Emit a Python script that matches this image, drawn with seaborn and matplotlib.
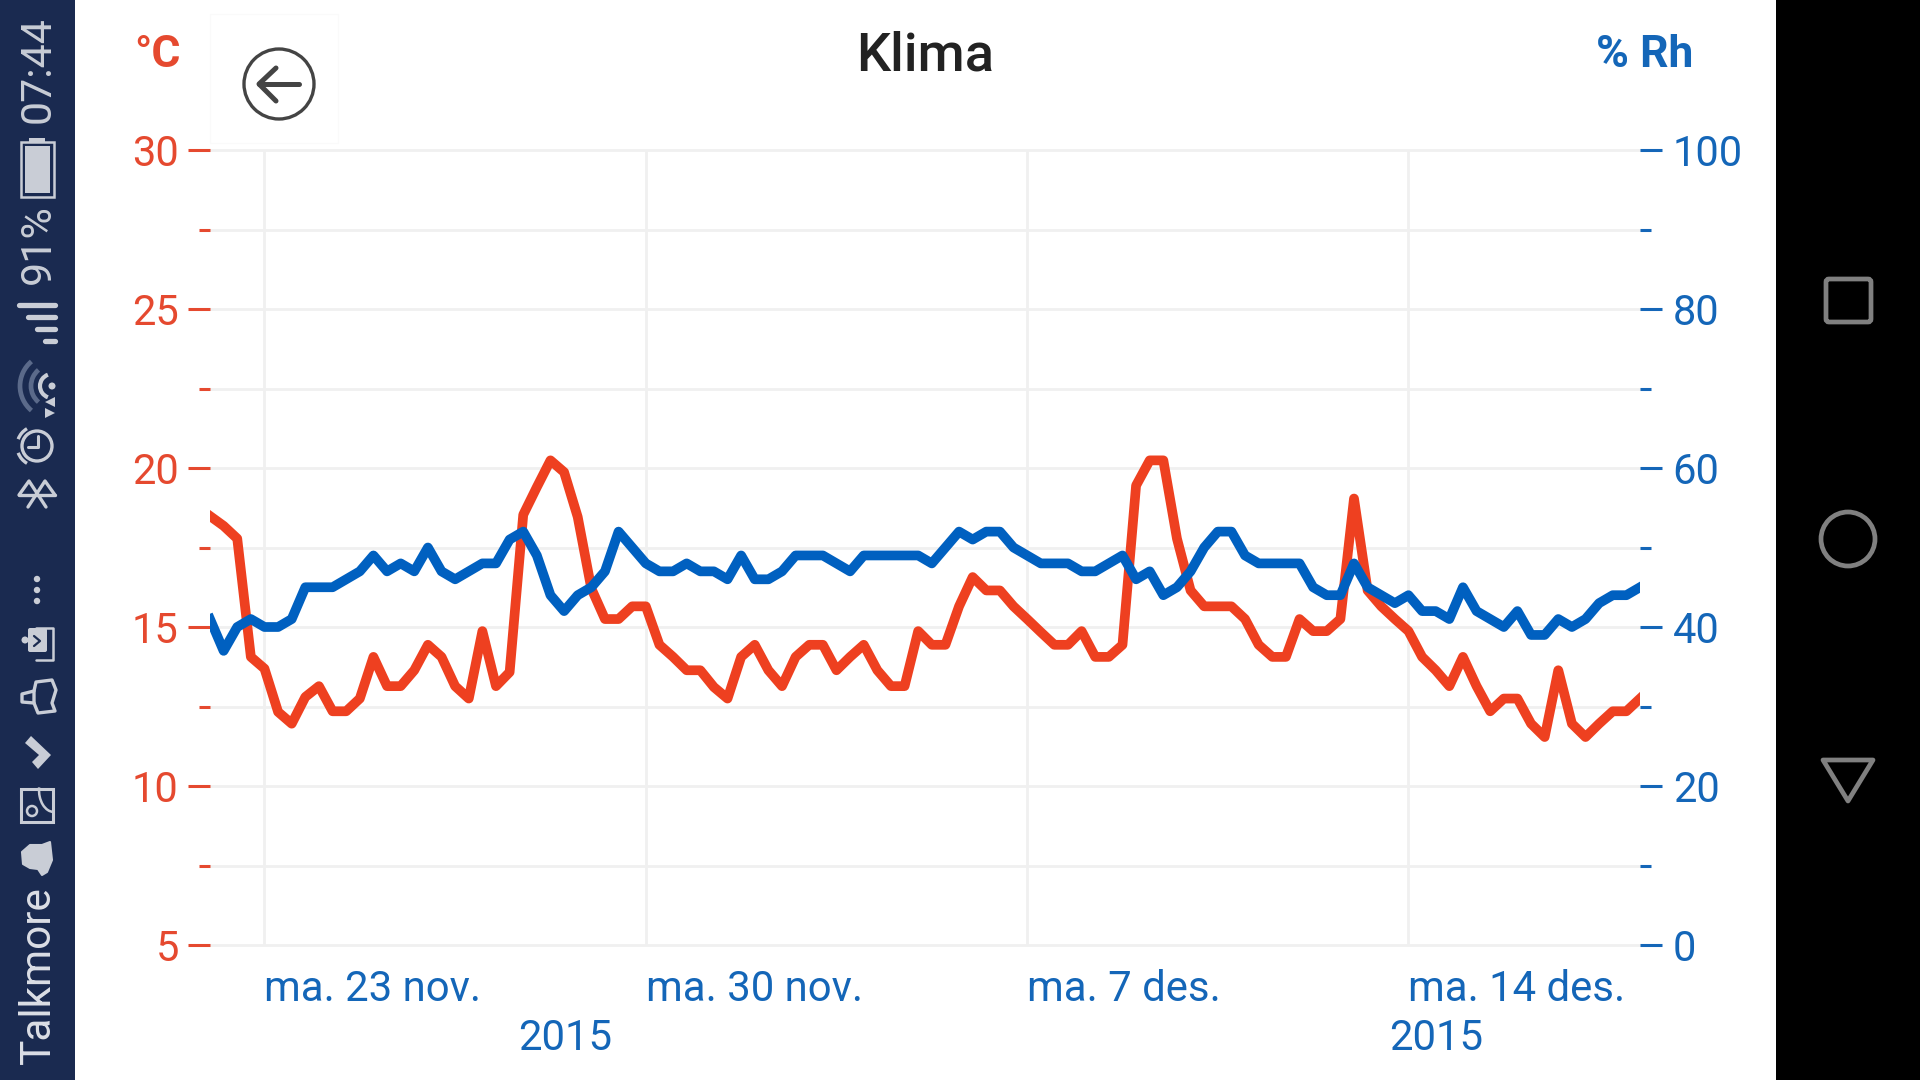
import pandas as pd
import seaborn as sns
import matplotlib.pyplot as plt
from matplotlib.patches import Rectangle, Circle, Polygon, Arc, FancyBboxPatch

temp = [18.49, 18.18, 17.78, 14.06, 13.69, 12.33, 11.96, 12.80, 13.14, 12.35,
        12.35, 12.75, 14.06, 13.14, 13.14, 13.64, 14.44, 14.06, 13.14, 12.75,
        14.87, 13.14, 13.58, 18.53, 19.40, 20.24, 19.87, 18.46, 16.21, 15.25,
        15.25, 15.65, 15.65, 14.44, 14.06, 13.64, 13.64, 13.11, 12.75, 14.06,
        14.44, 13.64, 13.14, 14.06, 14.44, 14.44, 13.64, 14.06, 14.44, 13.64,
        13.14, 13.14, 14.87, 14.44, 14.44, 15.65, 16.57, 16.15, 16.15, 15.65,
        15.25, 14.84, 14.44, 14.44, 14.87, 14.06, 14.06, 14.44, 19.45, 20.24,
        20.24, 17.78, 16.15, 15.65, 15.65, 15.65, 15.25, 14.44, 14.06, 14.06,
        15.25, 14.87, 14.87, 15.25, 19.04, 16.15, 15.65, 15.25, 14.87, 14.06,
        13.64, 13.14, 14.06, 13.14, 12.35, 12.75, 12.75, 11.96, 11.54, 13.64,
        11.96, 11.54, 11.96, 12.35, 12.35, 12.75]
rh = [41, 37, 40, 41, 40, 40, 41, 45, 45, 45,
      46, 47, 49, 47, 48, 47, 50, 47, 46, 47,
      48, 48, 51, 52, 49, 44, 42, 44, 45, 47,
      52, 50, 48, 47, 47, 48, 47, 47, 46, 49,
      46, 46, 47, 49, 49, 49, 48, 47, 49, 49,
      49, 49, 49, 48, 50, 52, 51, 52, 52, 50,
      49, 48, 48, 48, 47, 47, 48, 49, 46, 47,
      44, 45, 47, 50, 52, 52, 49, 48, 48, 48,
      48, 45, 44, 44, 48, 45, 44, 43, 44, 42,
      42, 41, 45, 42, 41, 40, 42, 39, 39, 41,
      40, 41, 43, 44, 44, 45]
tick_dates = ['2015-11-23', '2015-11-30', '2015-12-07', '2015-12-14']
tick_labels = ['ma. 23 nov.', 'ma. 30 nov.', 'ma. 7 des.', 'ma. 14 des.']
temp_ticks = [5, 10, 15, 20, 25, 30]
temp_minor = [7.5, 12.5, 17.5, 22.5, 27.5]
rh_ticks = [0, 20, 40, 60, 80, 100]
rh_minor = [10, 30, 50, 70, 90]

RED = '#ee4020'
RED_TXT = '#e5492f'
BLUE = '#0060c0'
BLUE_TXT = '#1466b8'
GRID = '#f0f0f0'
ICON = '#c9cdd6'

sns.set_theme(style='white')
plt.rcParams['font.family'] = ['Roboto', 'DejaVu Sans']

dates = pd.date_range('2015-11-22', periods=len(temp), freq='6h')
df = pd.DataFrame({'date': dates, 'temp': temp, 'rh': rh})

fig = plt.figure(figsize=(19.2, 10.8), dpi=100, facecolor='white')
W, H = 1920, 1080


def px_axes(left, top, right, bottom):
    return fig.add_axes([left / W, 1 - bottom / H, (right - left) / W, (bottom - top) / H])


ax = px_axes(210, 150, 1640, 945)
ax.patch.set_alpha(0)
sns.lineplot(data=df, x='date', y='temp', ax=ax, color=RED, linewidth=7,
             solid_joinstyle='round', solid_capstyle='projecting')
ax.set_xlim(dates[0], dates[-1])
ax.set_ylim(5, 30)
ax.set_xlabel('')
ax.set_ylabel('')
ax.set_yticks(temp_ticks)
ax.set_yticks(temp_minor, minor=True)
ax.set_xticks(pd.to_datetime(tick_dates))
ax.set_xticklabels(tick_labels, ha='left')
ax.tick_params(axis='y', which='major', left=True, length=16, width=2.2, color=RED_TXT,
               labelcolor=RED_TXT, labelsize=30, pad=6.5)
ax.tick_params(axis='y', which='minor', left=True, length=8, width=2.2, color=RED_TXT)
ax.tick_params(axis='x', bottom=False, labelcolor=BLUE_TXT, labelsize=30.2, pad=11)
ax.grid(True, axis='y', which='both', color=GRID, linewidth=2, clip_on=False)
ax.grid(True, axis='x', which='major', color=GRID, linewidth=2)
ax.set_axisbelow(True)
sns.despine(ax=ax, left=True, bottom=True, right=True, top=True)

ax2 = ax.twinx()
ax2.patch.set_alpha(0)
sns.lineplot(data=df, x='date', y='rh', ax=ax2, color=BLUE, linewidth=7,
             solid_joinstyle='round', solid_capstyle='projecting')
ax2.set_ylim(0, 100)
ax2.set_xlabel('')
ax2.set_ylabel('')
ax2.set_yticks(rh_ticks)
ax2.set_yticks(rh_minor, minor=True)
ax2.tick_params(axis='y', which='major', right=True, length=16, width=2.2, color=BLUE_TXT,
                labelcolor=BLUE_TXT, labelsize=30, pad=7.5)
ax2.tick_params(axis='y', which='minor', right=True, length=8, width=2.2, color=BLUE_TXT)
ax2.grid(False)
sns.despine(ax=ax2, left=True, bottom=True, right=True, top=True)

# everything outside the plot, in pixel coordinates of the screenshot
ui = fig.add_axes([0, 0, 1, 1], zorder=-1)
ui.set_xlim(0, W)
ui.set_ylim(H, 0)
ui.axis('off')
top = fig.add_axes([0, 0, 1, 1], zorder=5)
top.set_xlim(0, W)
top.set_ylim(H, 0)
top.axis('off')
top.patch.set_alpha(0)

ui.add_patch(Rectangle((0, 0), 75, H, color='#1a2a50', lw=0))
ui.add_patch(Rectangle((1776, 0), 144, H, color='black', lw=0))
ui.add_patch(Rectangle((210, 14), 128, 129, fc='white', ec='#fafafa', lw=1))

top.text(925, 56, 'Klima', fontsize=39, fontweight='medium', color='#222222', ha='center', va='center')
top.text(134, 55, '°C', fontsize=32, fontweight='bold', color=RED_TXT, ha='left', va='center')
top.text(1693, 55, '% Rh', fontsize=32, fontweight='bold', color=BLUE_TXT, ha='right', va='center')
top.text(565, 1038, '2015', fontsize=30.2, color=BLUE_TXT, ha='center', va='center')
top.text(1436, 1038, '2015', fontsize=30.2, color=BLUE_TXT, ha='center', va='center')

# back button
top.add_patch(Circle((279, 84), 35, fc='none', ec='#444444', lw=2.4))
top.plot([259, 299], [84, 84], color='#444444', lw=3.6, solid_capstyle='round')
top.plot([276, 259, 276], [68, 84, 101], color='#444444', lw=3.6, solid_capstyle='round')

# android nav buttons
top.add_patch(FancyBboxPatch((1826, 279), 45, 43, boxstyle='round,pad=0,rounding_size=3',
                             fc='none', ec='#808080', lw=3.4))
top.add_patch(Circle((1848, 539), 27, fc='none', ec='#808080', lw=3.4))
top.add_patch(Polygon([(1823, 760), (1873, 760), (1848, 801)], closed=True, fc='none',
                      ec='#808080', lw=3.4, joinstyle='round'))

# status bar
top.text(38, 70, '07:44', fontsize=31, color=ICON, rotation=90, ha='center', va='center')
top.text(38, 244, '91%', fontsize=31, color=ICON, rotation=90, ha='center', va='center')
top.text(38, 975, 'Talkmore', fontsize=30.5, color='#dcdfe6', rotation=90, ha='center', va='center')

top.add_patch(Rectangle((21, 142), 33, 55, fc='none', ec=ICON, lw=1.8))
top.add_patch(Rectangle((25, 146), 25, 47, fc=ICON, lw=0))
top.add_patch(Rectangle((29, 138), 16, 4, fc=ICON, lw=0))

for y, x0 in zip([305, 317, 329, 341], [19, 28, 37, 45]):
    top.plot([x0, 55], [y, y], color=ICON, lw=3.8, solid_capstyle='round')

top.add_patch(Arc((52, 386), 64, 64, theta1=130, theta2=230, color='#5b6a8a', lw=3.4))
top.add_patch(Arc((52, 386), 42, 42, theta1=130, theta2=230, color='#5b6a8a', lw=3.4))
top.add_patch(Arc((52, 386), 24, 24, theta1=110, theta2=250, color=ICON, lw=3))
top.add_patch(Circle((52, 386), 3.5, fc=ICON, lw=0))
top.add_patch(Polygon([(45, 402), (55, 397), (55, 407)], closed=True, fc=ICON, lw=0))
top.add_patch(Polygon([(55, 413), (45, 408), (45, 418)], closed=True, fc=ICON, lw=0))

top.add_patch(Circle((37, 446), 15, fc='none', ec=ICON, lw=2.4))
top.plot([38, 38, 28], [436, 447, 447], color=ICON, lw=2.2)
top.add_patch(Arc((37, 446), 40, 40, theta1=120, theta2=160, color=ICON, lw=2.4))
top.add_patch(Arc((37, 446), 40, 40, theta1=200, theta2=240, color=ICON, lw=2.4))

# sideways bluetooth mark
top.plot([19, 55], [495, 495], color=ICON, lw=2.4)
top.plot([19, 29, 46], [495, 481, 507], color=ICON, lw=2.4)
top.plot([55, 45, 28], [495, 481, 507], color=ICON, lw=2.4)

for y in [579, 590, 601]:
    top.add_patch(Circle((37, y), 3.2, fc=ICON, lw=0))

top.plot([36, 53, 53, 36], [628, 628, 660, 660], color=ICON, lw=1.8)
top.add_patch(FancyBboxPatch((28, 628), 19, 24, boxstyle='round,pad=0,rounding_size=2', fc=ICON, lw=0))
top.add_patch(Circle((25, 640), 3.5, fc=ICON, lw=0))
top.plot([34, 40, 34], [636, 641, 646], color='#1a2a50', lw=1.6)

top.add_patch(Polygon([(36, 682), (52, 680), (56, 690), (52, 703), (55, 711), (38, 713), (34, 703), (34, 691)],
                      closed=True, fc='none', ec=ICON, lw=2.4, joinstyle='round'))
top.plot([34, 22, 22, 34], [691, 694, 702, 703], color=ICON, lw=2.4)

top.add_patch(Polygon([(25, 743), (31, 736), (51, 755), (38, 769), (32, 762), (39, 755)], closed=True, fc=ICON, lw=0))

top.add_patch(Rectangle((21, 789), 32, 33, fc='none', ec=ICON, lw=2.2))
top.add_patch(Circle((32, 811), 5, fc='none', ec=ICON, lw=1.8))
top.add_patch(Arc((54, 790), 30, 44, theta1=90, theta2=190, color=ICON, lw=1.8))

top.add_patch(Polygon([(22, 852), (30, 845), (42, 845), (50, 842), (52, 860), (47, 872), (42, 875), (38, 869),
                       (30, 868), (23, 864)], closed=True, fc=ICON, ec=ICON, lw=1.5, joinstyle='round'))

fig.savefig('out.png', dpi=100)
